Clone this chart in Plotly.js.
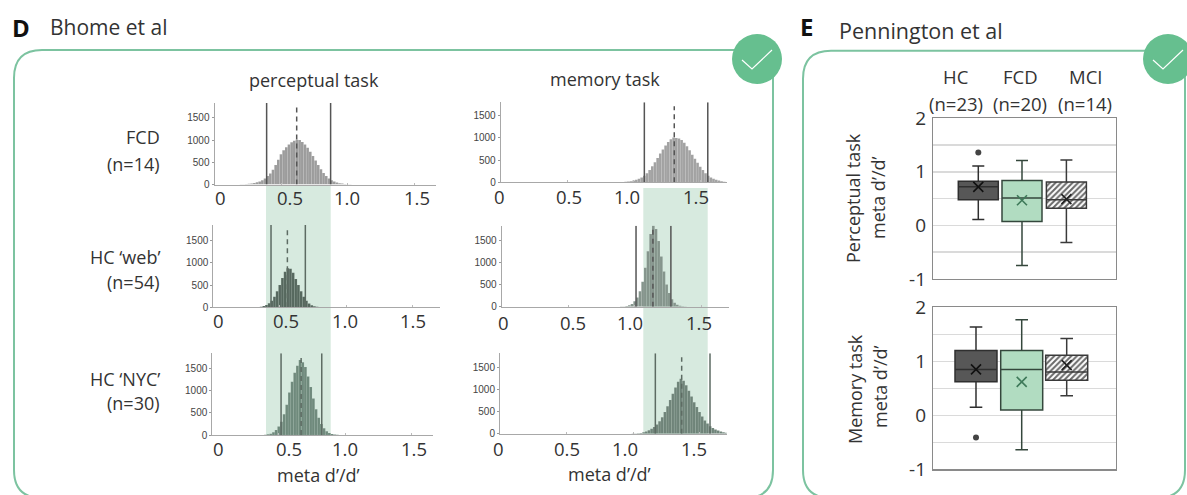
<!DOCTYPE html>
<html><head><meta charset="utf-8">
<script src="https://cdn.plot.ly/plotly-3.0.0.min.js"></script>
<style>html,body{margin:0;padding:0;background:#fff}#c{width:1187px;height:495px}</style>
</head><body><div id="c"></div>
<script>
// ---------- histogram data (counts per 0.02 bin) ----------
const binWidth = 0.02;
const perceptualFcdStart = 0.20;
const perceptualFcd = [5,8,12,18,25,35,50,70,95,135,190,250,330,440,560,680,770,840,900,950,985,1010,1000,960,900,830,740,640,540,440,345,260,190,135,95,65,45,30,20,12,8,5];
const perceptualWebStart = 0.30;
const perceptualWeb = [3,5,8,15,28,50,90,150,240,360,500,660,800,880,870,780,640,500,360,240,150,85,45,22,10,5,2];
const perceptualNycStart = 0.40;
const perceptualNyc = [8,15,30,60,110,190,300,470,680,960,1200,1400,1560,1690,1640,1530,1320,1080,820,580,390,250,150,85,45,22,10,5];
const memoryFcdStart = 0.90;
const memoryFcd = [3,6,10,16,25,38,55,80,110,150,205,275,360,450,550,650,740,830,910,970,1010,1000,985,950,890,810,720,620,530,440,350,275,205,150,110,80,55,38,25,15,8];
const memoryWebStart = 0.90;
const memoryWeb = [3,6,14,30,60,120,210,350,560,880,1250,1640,1830,1750,1480,1130,790,500,310,170,90,45,20,10,4];
const memoryNycStart = 1.00;
const memoryNyc = [3,6,10,18,30,48,75,110,150,205,280,370,490,620,760,900,1040,1170,1240,1190,1090,970,840,710,600,490,390,300,230,170,130,95,70,50,35,22];

// credible interval limits and means [FCD, web, NYC]
const perceptualLow  = [0.392,0.434,0.517];
const perceptualMean = [0.618,0.557,0.668];
const perceptualHigh = [0.873,0.692,0.823];
const memoryLow  = [1.08,1.01,1.168];
const memoryMean = [1.305,1.137,1.366];
const memoryHigh = [1.557,1.272,1.579];

const xTickLabels = ['0','0.5','1.0','1.5'];
const groupLabels = ['HC','FCD','MCI'];
const groupNs = ['(n=23)','(n=20)','(n=14)'];

// ---------- box data [HC, FCD, MCI] ----------
const percLow = [0.11,-0.75,-0.32], percQ1 = [0.48,0.07,0.32], percMed = [0.72,0.51,0.48], percQ3 = [0.825,0.84,0.81], percHigh = [1.11,1.21,1.22], percMeanV = [0.72,0.47,0.49];
const percOutlier = [1.36];
const memLow = [0.15,-0.64,0.36], memQ1 = [0.62,0.10,0.65], memMed = [0.85,0.85,0.80], memQ3 = [1.20,1.20,1.11], memHigh = [1.635,1.77,1.42], memMeanV = [0.85,0.62,0.93];
const memOutlier = [-0.41];

// ---------- page geometry (px) ----------
const W = 1187, H = 495, FONT = '"Open Sans", sans-serif', INK = '#333';
const dom = (a,b,s)=>[a/s,b/s];
const yDom = (top,bot)=>[1-bot/H,1-top/H];

const panels = [
 {vals:perceptualFcd,start:perceptualFcdStart,lo:perceptualLow[0],mean:perceptualMean[0],hi:perceptualHigh[0],x0:214.5,x1:436,y0:184.5,top:103,py:197,lx:[220,290,347,417],col:'#9c9c9c',line:'#555'},
 {vals:perceptualWeb,start:perceptualWebStart,lo:perceptualLow[1],mean:perceptualMean[1],hi:perceptualHigh[1],x0:213.3,x1:440,y0:307.3,top:225,py:320,lx:[218,286,345,413],col:'#56685e',line:'#5d6b63'},
 {vals:perceptualNyc,start:perceptualNycStart,lo:perceptualLow[2],mean:perceptualMean[2],hi:perceptualHigh[2],x0:212.3,x1:432.7,y0:435,top:353.3,py:448,lx:[218,289,345,414],col:'#6f8a7c',line:'#5d6b63'},
 {vals:memoryFcd,start:memoryFcdStart,lo:memoryLow[0],mean:memoryMean[0],hi:memoryHigh[0],x0:500.7,x1:726.7,y0:182.3,top:102.3,py:196,lx:[499,569,627,696],col:'#a2a2a2',line:'#555'},
 {vals:memoryWeb,start:memoryWebStart,lo:memoryLow[1],mean:memoryMean[1],hi:memoryHigh[1],x0:501.7,x1:728.7,y0:306.7,top:225.7,py:322,lx:[503,573,630,699],col:'#85958c',line:'#555'},
 {vals:memoryNyc,start:memoryNycStart,lo:memoryLow[2],mean:memoryMean[2],hi:memoryHigh[2],x0:500,x1:726.7,y0:433.7,top:353.3,py:448,lx:[498,567,625,694],col:'#6f8479',line:'#5d6b63'}
];
const pxPerX = 133, pxPer500 = 22.2;

const traces = [], layout = {
 width:W,height:H,margin:{l:0,r:0,t:0,b:0},showlegend:false,paper_bgcolor:'#fff',plot_bgcolor:'rgba(0,0,0,0)',
 bargap:0,
 xaxis:{range:[0,W],visible:false,domain:[0,1],fixedrange:true},
 yaxis:{range:[H,0],visible:false,domain:[0,1],fixedrange:true},
 shapes:[],annotations:[],
 font:{family:FONT,color:INK}
};
const text = (t,x,y,size,o={})=>layout.annotations.push(Object.assign({text:t,x,y,xref:'x',yref:'y',showarrow:false,
   font:{size,family:FONT,color:INK},xanchor:'center',yanchor:'middle'},o));

// ---------- histograms ----------
panels.forEach((p,i)=>{
  const n = i+2, xa='x'+n, ya='y'+n, top=(p.y0-p.top)/pxPer500*500;
  layout['xaxis'+n] = {domain:dom(p.x0,p.x1,W),range:[0,(p.x1-p.x0)/pxPerX],anchor:ya,tickvals:[0,0.5,1,1.5],showticklabels:false,
     ticks:'inside',ticklen:2,tickcolor:'#bbb',showline:true,linecolor:'#a8a8a8',linewidth:1,showgrid:false,zeroline:false,fixedrange:true};
  layout['yaxis'+n] = {domain:yDom(p.top,p.y0),range:[0,top],anchor:xa,tickvals:[0,500,1000,1500],ticks:'outside',ticklen:2,tickcolor:'#999',
     tickfont:{size:10,family:'"Liberation Sans", Arial, sans-serif',color:'#444'},showline:true,linecolor:'#a8a8a8',linewidth:1,showgrid:false,zeroline:false,fixedrange:true};
  traces.push({type:'bar',xaxis:xa,yaxis:ya,x:p.vals.map((_,k)=>p.start+k*binWidth),y:p.vals,width:binWidth,
     marker:{color:p.col,line:{color:'rgba(255,255,255,0.12)',width:0.5}},hoverinfo:'skip'});
  [p.lo,p.hi].forEach(v=>traces.push({type:'scatter',mode:'lines',xaxis:xa,yaxis:ya,x:[v,v],y:[0,top],line:{color:p.line,width:1.5},hoverinfo:'skip'}));
  traces.push({type:'scatter',mode:'lines',xaxis:xa,yaxis:ya,x:[p.mean,p.mean],y:[0,top*0.95],line:{color:p.line,width:1.5,dash:'5px,4px'},hoverinfo:'skip'});
  xTickLabels.forEach((t,k)=>text(t,p.lx[k],p.py,18.5));
});

// ---------- box panels ----------
const boxColors = [{fill:'#575757',line:'#2f2f2f',mean:'#111'},{fill:'#b1dcc1',line:'#34473c',mean:'#3f7a5a'},{fill:'rgba(0,0,0,0)',line:'#3a3a3a',mean:'#222'}];
const boxPanels = [
 {top:118.3,bot:278.9,low:percLow,q1:percQ1,med:percMed,q3:percQ3,high:percHigh,mean:percMeanV,out:percOutlier,outX:[1],centers:[978.3,1022,1066.4],bw:40},
 {top:307.3,bot:469.3,low:memLow,q1:memQ1,med:memMed,q3:memQ3,high:memHigh,mean:memMeanV,out:memOutlier,outX:[1],centers:[976,1021.7,1066.7],bw:42}
];
boxPanels.forEach((b,i)=>{
  const n=8+i, xa='x'+n, ya='y'+n, left=933.3, right=1115.7, sp=(b.centers[2]-b.centers[0])/2;
  const xPos = b.centers.map(c=>1+(c-b.centers[0])/sp);
  layout['xaxis'+n]={domain:dom(left,right,W),range:[1-(b.centers[0]-left)/sp,1+(right-b.centers[0])/sp],anchor:ya,showticklabels:false,ticks:'',showgrid:false,zeroline:false,
     showline:true,mirror:true,linecolor:'#8a8a8a',linewidth:1.5,fixedrange:true};
  layout['yaxis'+n]={domain:yDom(b.top,b.bot),range:[-1,2],anchor:xa,tickvals:[-1,-0.5,0,0.5,1,1.5,2],ticktext:['-1','','0','','1','','2'],
     tickfont:{size:19,family:FONT,color:INK},ticks:'',ticklabelstandoff:2,showgrid:true,gridcolor:'#dadada',gridwidth:1.5,zeroline:false,showline:true,mirror:true,linecolor:'#8a8a8a',linewidth:1.5,fixedrange:true};
  // hatched fill for MCI
  traces.push({type:'bar',xaxis:xa,yaxis:ya,x:[xPos[2]],base:[b.q1[2]],y:[b.q3[2]-b.q1[2]],width:b.bw/sp,
     marker:{color:'#fff',line:{width:0},pattern:{shape:'/',fgcolor:'#6a6a6a',bgcolor:'#fff',size:4,solidity:0.5}},hoverinfo:'skip'});
  groupLabels.forEach((g,k)=>{
    traces.push({type:'box',xaxis:xa,yaxis:ya,x:[xPos[k]],q1:[b.q1[k]],median:[b.med[k]],q3:[b.q3[k]],lowerfence:[b.low[k]],upperfence:[b.high[k]],
      width:b.bw/sp,whiskerwidth:0.3,fillcolor:boxColors[k].fill,line:{color:boxColors[k].line,width:1.5},boxpoints:false,name:g,hoverinfo:'skip'});
    traces.push({type:'scatter',mode:'markers',xaxis:xa,yaxis:ya,x:[xPos[k]],y:[b.mean[k]],
      marker:{symbol:'x-thin',size:10,line:{color:boxColors[k].mean,width:1.6},color:boxColors[k].mean},hoverinfo:'skip'});
  });
  traces.push({type:'scatter',mode:'markers',xaxis:xa,yaxis:ya,x:b.outX,y:b.out,marker:{size:6,color:'#444'},hoverinfo:'skip'});
});

// ---------- decoration ----------
const rr=(x0,y0,x1,y1,r)=>`M${x0+r},${y0} L${x1-r},${y0} Q${x1},${y0} ${x1},${y0+r} L${x1},${y1-r} Q${x1},${y1} ${x1-r},${y1} L${x0+r},${y1} Q${x0},${y1} ${x0},${y1-r} L${x0},${y0+r} Q${x0},${y0} ${x0+r},${y0} Z`;
const s = layout.shapes, G='#7cc3a0', base={xref:'x',yref:'y'};
s.push(Object.assign({type:'rect',x0:266,x1:330.7,y0:186,y1:436,fillcolor:'#d7eadf',line:{width:0},layer:'below'},base));
s.push(Object.assign({type:'rect',x0:643.3,x1:707.7,y0:188,y1:434,fillcolor:'#d7eadf',line:{width:0},layer:'below'},base));
s.push(Object.assign({type:'path',path:rr(14,50,773,498,28),line:{color:G,width:2},layer:'below'},base));
s.push(Object.assign({type:'path',path:rr(803,50.7,1185,498,28),line:{color:G,width:2},layer:'below'},base));
[[757,0],[1168,411]].forEach(([cx,dx])=>{
  s.push(Object.assign({type:'circle',x0:cx-25,x1:cx+25,y0:34,y1:84,fillcolor:'#66bf8f',line:{width:0},layer:'above'},base));
  s.push(Object.assign({type:'path',path:`M${742+dx},60 L${752+dx},69 L${772+dx},50`,line:{color:'#fff',width:1.2},layer:'above'},base));
});

// ---------- text ----------
text('<b>D</b>',20.5,27,24,{font:{size:24,family:FONT,color:'#111'}});
text('Bhome et al',48,27,21,{xanchor:'left'});
text('<b>E</b>',806,26,24,{font:{size:24,family:FONT,color:'#111'}});
text('Pennington et al',837,30,21.5,{xanchor:'left'});
text('perceptual task',314,80,18);
text('memory task',605,79,18);
[['FCD',137],['(n=14)',164],['HC ‘web’',257],['(n=54)',282],['HC ‘NYC’',379],['(n=30)',403]].forEach(([t,y])=>text(t,162,y,18,{xanchor:'right'}));
text('meta d’/d’',318,475,18);
text('meta d’/d’',609,474,18);
const headX=[956,1020,1085];
groupLabels.forEach((g,k)=>{text(g,headX[k],76.5,18.5);text(groupNs[k],headX[k],103,18.5);});
text('Perceptual task',853,198,18,{textangle:-90});
text('meta d’/d’',878,198,18,{textangle:-90});
text('Memory task',855,389,18,{textangle:-90});
text('meta d’/d’',880,387,18,{textangle:-90});

Plotly.newPlot('c',traces,layout,{displayModeBar:false,staticPlot:true});
</script></body></html>
